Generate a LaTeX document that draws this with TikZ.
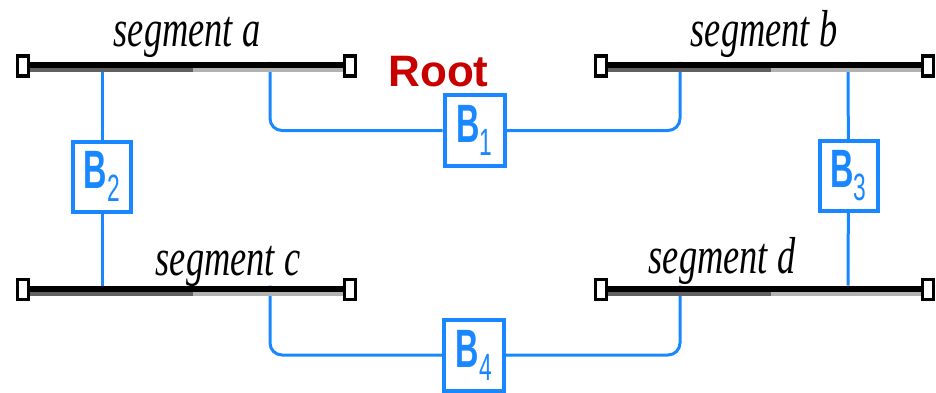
\documentclass[tikz,border=0pt]{standalone}
\usepackage{fontspec}
\setmainfont{Liberation Serif}
\newfontfamily\sansf{Liberation Sans}
\definecolor{bl}{RGB}{25,135,255}
\definecolor{rootred}{RGB}{200,0,0}
\definecolor{dgrey}{gray}{0.38}
\definecolor{lgrey}{gray}{0.7}
\newcommand{\seglab}[1]{\scalebox{0.7}[1]{\fontsize{52}{52}\selectfont\itshape segment #1}}
\newcommand{\blab}[1]{\scalebox{0.6}[1]{\sansf\bfseries\fontsize{54}{54}\selectfont B\raisebox{-13pt}{\fontsize{38}{38}\selectfont\mdseries #1}}}
\begin{document}
\begin{tikzpicture}[x=1pt,y=-1pt,
  conn/.style={draw=bl,line width=3,rounded corners=12},
  bbox/.style={draw=bl,fill=white,line width=4,minimum width=58pt,minimum height=70pt,inner sep=0pt,text=bl},
  seglabel/.style={anchor=base,inner sep=0pt,text=black},
  endbox/.style={draw=black,fill=white,line width=3.5}]
\useasboundingbox (0,0) rectangle (936,393);
% branch coordinates on the segments (top of black line)
\coordinate (a-l) at (102,62);
\coordinate (a-r) at (270,62);
\coordinate (b-l) at (680,62);
\coordinate (b-r) at (848,62);
\coordinate (c-l) at (102,285.5);
\coordinate (c-r) at (270,285.5);
\coordinate (d-l) at (680,285.5);
\coordinate (d-r) at (848,285.5);
% bridges
\node[bbox,minimum width=60pt,minimum height=71pt] (B1) at (474.5,130.5) {\blab{1}};
\node[bbox] (B2) at (102,176.5) {\blab{2}};
\node[bbox] (B3) at (848.5,176) {\blab{3}};
\node[bbox,minimum width=60pt,minimum height=71pt] (B4) at (474,355) {\blab{4}};
% connectors
\draw[conn] (a-r) |- (B1);
\draw[conn] (B1) -| (b-l);
\draw[conn] (a-l) -- (B2);
\draw[conn] (B2) -- (c-l);
\draw[conn] (b-r) -- (B3);
\draw[conn] (B3) -- (d-r);
\draw[conn] (c-r) |- (B4);
\draw[conn] (B4) -| (d-l);
% segments
\foreach \n/\x/\y in {a/30/65,b/608/65,c/30/288.5,d/608/288.5}{
  \draw[black,line width=6] (\x,\y) -- ++(313,0);
  \draw[dgrey,line width=4] (\x,\y+5) -- ++(163,0);
  \draw[lgrey,line width=4] (\x+163,\y+5) -- ++(150,0);
  \draw[endbox] (\x-12.5,\y-9) rectangle (\x-1.5,\y+11);
  \draw[endbox] (\x+314.5,\y-9) rectangle (\x+325.5,\y+11);
}
% labels
\node[seglabel] (la) at (187,47) {\seglab{a}};
\node[seglabel] (lb) at (764,47) {\seglab{b}};
\node[seglabel] (lc) at (228,275) {\seglab{c}};
\node[seglabel] (ld) at (722,273) {\seglab{d}};
\node[anchor=base,inner sep=0pt,text=rootred,font=\sansf\bfseries\fontsize{44}{44}\selectfont] (root) at (438.5,86.5) {Root};
\end{tikzpicture}
\end{document}
